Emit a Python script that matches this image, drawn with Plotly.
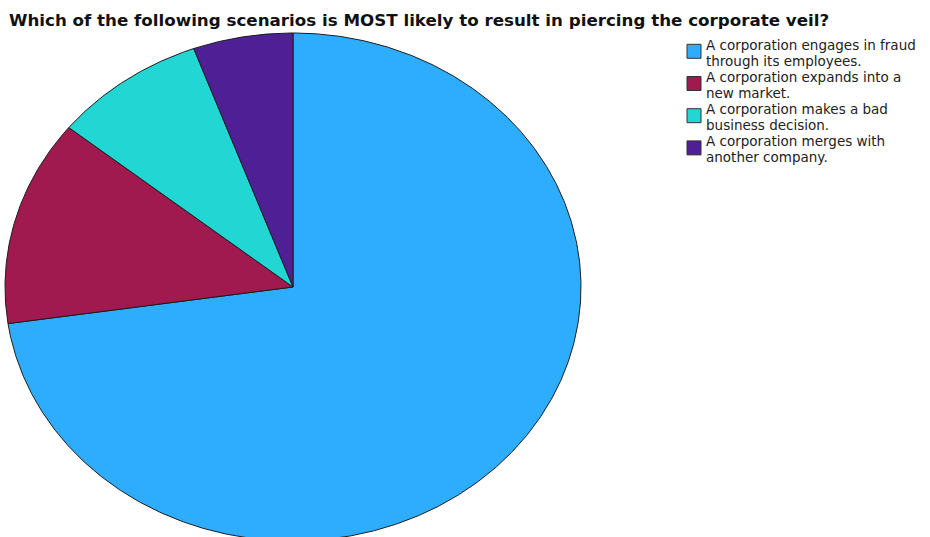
import numpy as np
import plotly.graph_objects as go

# Survey question and answer options
title_text = "Which of the following scenarios is MOST likely to result in piercing the corporate veil?"
answers = [
    ["A corporation engages in fraud", "through its employees."],
    ["A corporation expands into a", "new market."],
    ["A corporation makes a bad", "business decision."],
    ["A corporation merges with", "another company."],
]
# Share of responses (percent) for each answer
shares = [72.7, 13.1, 8.6, 5.6]
colors = ["#2EADFF", "#A0194F", "#22D6D3", "#4E1F95"]

W, H = 930, 537
# pie centre and radii in pixels (the pie is drawn as an ellipse)
cx, cy, rx, ry = 293, 287, 288, 254

fig = go.Figure()
total = sum(shares)
start = 0.0
for lines, val, col in zip(answers, shares, colors):
    frac = val / total
    theta = np.linspace(start, start + frac, max(int(frac * 900), 3)) * 2 * np.pi
    xs = np.concatenate([[0.0], np.sin(theta), [0.0]])
    ys = np.concatenate([[0.0], np.cos(theta), [0.0]])
    fig.add_trace(go.Scatter(
        x=xs, y=ys, mode="lines", fill="toself", fillcolor=col,
        line=dict(color="#1c1c1c", width=1), name=" ".join(lines),
        showlegend=False, hoverinfo="name",
    ))
    start += frac

# legend: swatch + two text lines per answer, laid out in pixels
leg_x, leg_y0, leg_pitch, line_gap, sw = 687, 44.3, 32.2, 16.0, 14
txt_font = dict(family="DejaVu Sans, sans-serif", size=13.5, color="#222222")
for i, (lines, col) in enumerate(zip(answers, colors)):
    top = leg_y0 + i * leg_pitch
    fig.add_shape(
        type="rect", xref="paper", yref="paper",
        x0=leg_x / W, x1=(leg_x + sw) / W,
        y0=1 - top / H, y1=1 - (top + sw) / H,
        fillcolor=col, line=dict(color="#333333", width=1),
    )
    for j, line in enumerate(lines):
        fig.add_annotation(
            text=line, xref="paper", yref="paper",
            x=705 / W, xanchor="left",
            y=1 - (top + 0.3 + j * line_gap) / H, yanchor="middle",
            showarrow=False, font=txt_font, borderpad=0,
        )

# unit circle mapped to the pixel ellipse through the axis ranges
x_range = [(0 - cx) / rx, (W - cx) / rx]
y_range = [(cy - H) / ry, cy / ry]

fig.update_layout(
    width=W, height=H,
    margin=dict(l=0, r=0, t=0, b=0),
    paper_bgcolor="white", plot_bgcolor="white",
    xaxis=dict(range=x_range, visible=False, fixedrange=True, domain=[0, 1]),
    yaxis=dict(range=y_range, visible=False, fixedrange=True, domain=[0, 1]),
    title=dict(
        text=title_text, x=9 / W, xanchor="left", xref="paper",
        y=1 - 20.5 / H, yanchor="middle", yref="paper",
        font=dict(family="DejaVu Sans, sans-serif", size=16.7,
                  color="#111111", weight="bold"),
    ),
    showlegend=False,
)

fig.write_html("out.html")
